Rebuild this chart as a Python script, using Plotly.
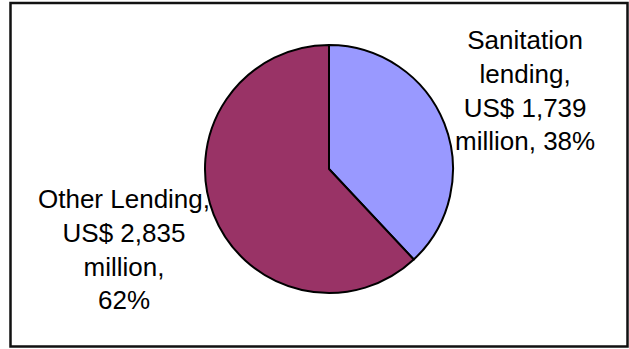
import plotly.graph_objects as go

# Lending breakdown (US$ million)
categories = ["Sanitation lending", "Other Lending"]
amounts = [1739, 2835]
colors = ["#9999FF", "#993366"]

W, H = 629, 349
total = sum(amounts)
shares = [a / total for a in amounts]

fig = go.Figure()
fig.add_trace(go.Pie(
    labels=categories,
    values=amounts,
    sort=False,
    direction="clockwise",
    rotation=0,
    marker=dict(colors=colors, line=dict(color="black", width=2)),
    textinfo="none",
    hoverinfo="label+value+percent",
    showlegend=False,
    domain=dict(x=[205 / W, 453 / W], y=[56 / H, 304 / H]),
))

font = dict(family="Liberation Sans, Arial, sans-serif", size=26, color="black")

san_text = "Sanitation<br>lending,<br>US$ {:,}<br>million, {:.0%}".format(amounts[0], shares[0])
oth_text = "Other Lending,<br>US$ {:,}<br>million,<br>{:.0%}".format(amounts[1], shares[1])

fig.add_annotation(x=525 / W, y=1 - 91 / H, xref="paper", yref="paper",
                   text=san_text, showarrow=False, align="center",
                   xanchor="center", yanchor="middle", font=font)
fig.add_annotation(x=124 / W, y=1 - 249 / H, xref="paper", yref="paper",
                   text=oth_text, showarrow=False, align="center",
                   xanchor="center", yanchor="middle", font=font)

# chart frame
fig.add_shape(type="rect", xref="paper", yref="paper",
              x0=10.5 / W, x1=627.5 / W, y0=1 - 346.5 / H, y1=1 - 3 / H,
              line=dict(color="#111111", width=2.5))

fig.update_layout(
    width=W, height=H,
    margin=dict(l=0, r=0, t=0, b=0),
    paper_bgcolor="white",
    plot_bgcolor="white",
)

fig.write_html("out.html")
